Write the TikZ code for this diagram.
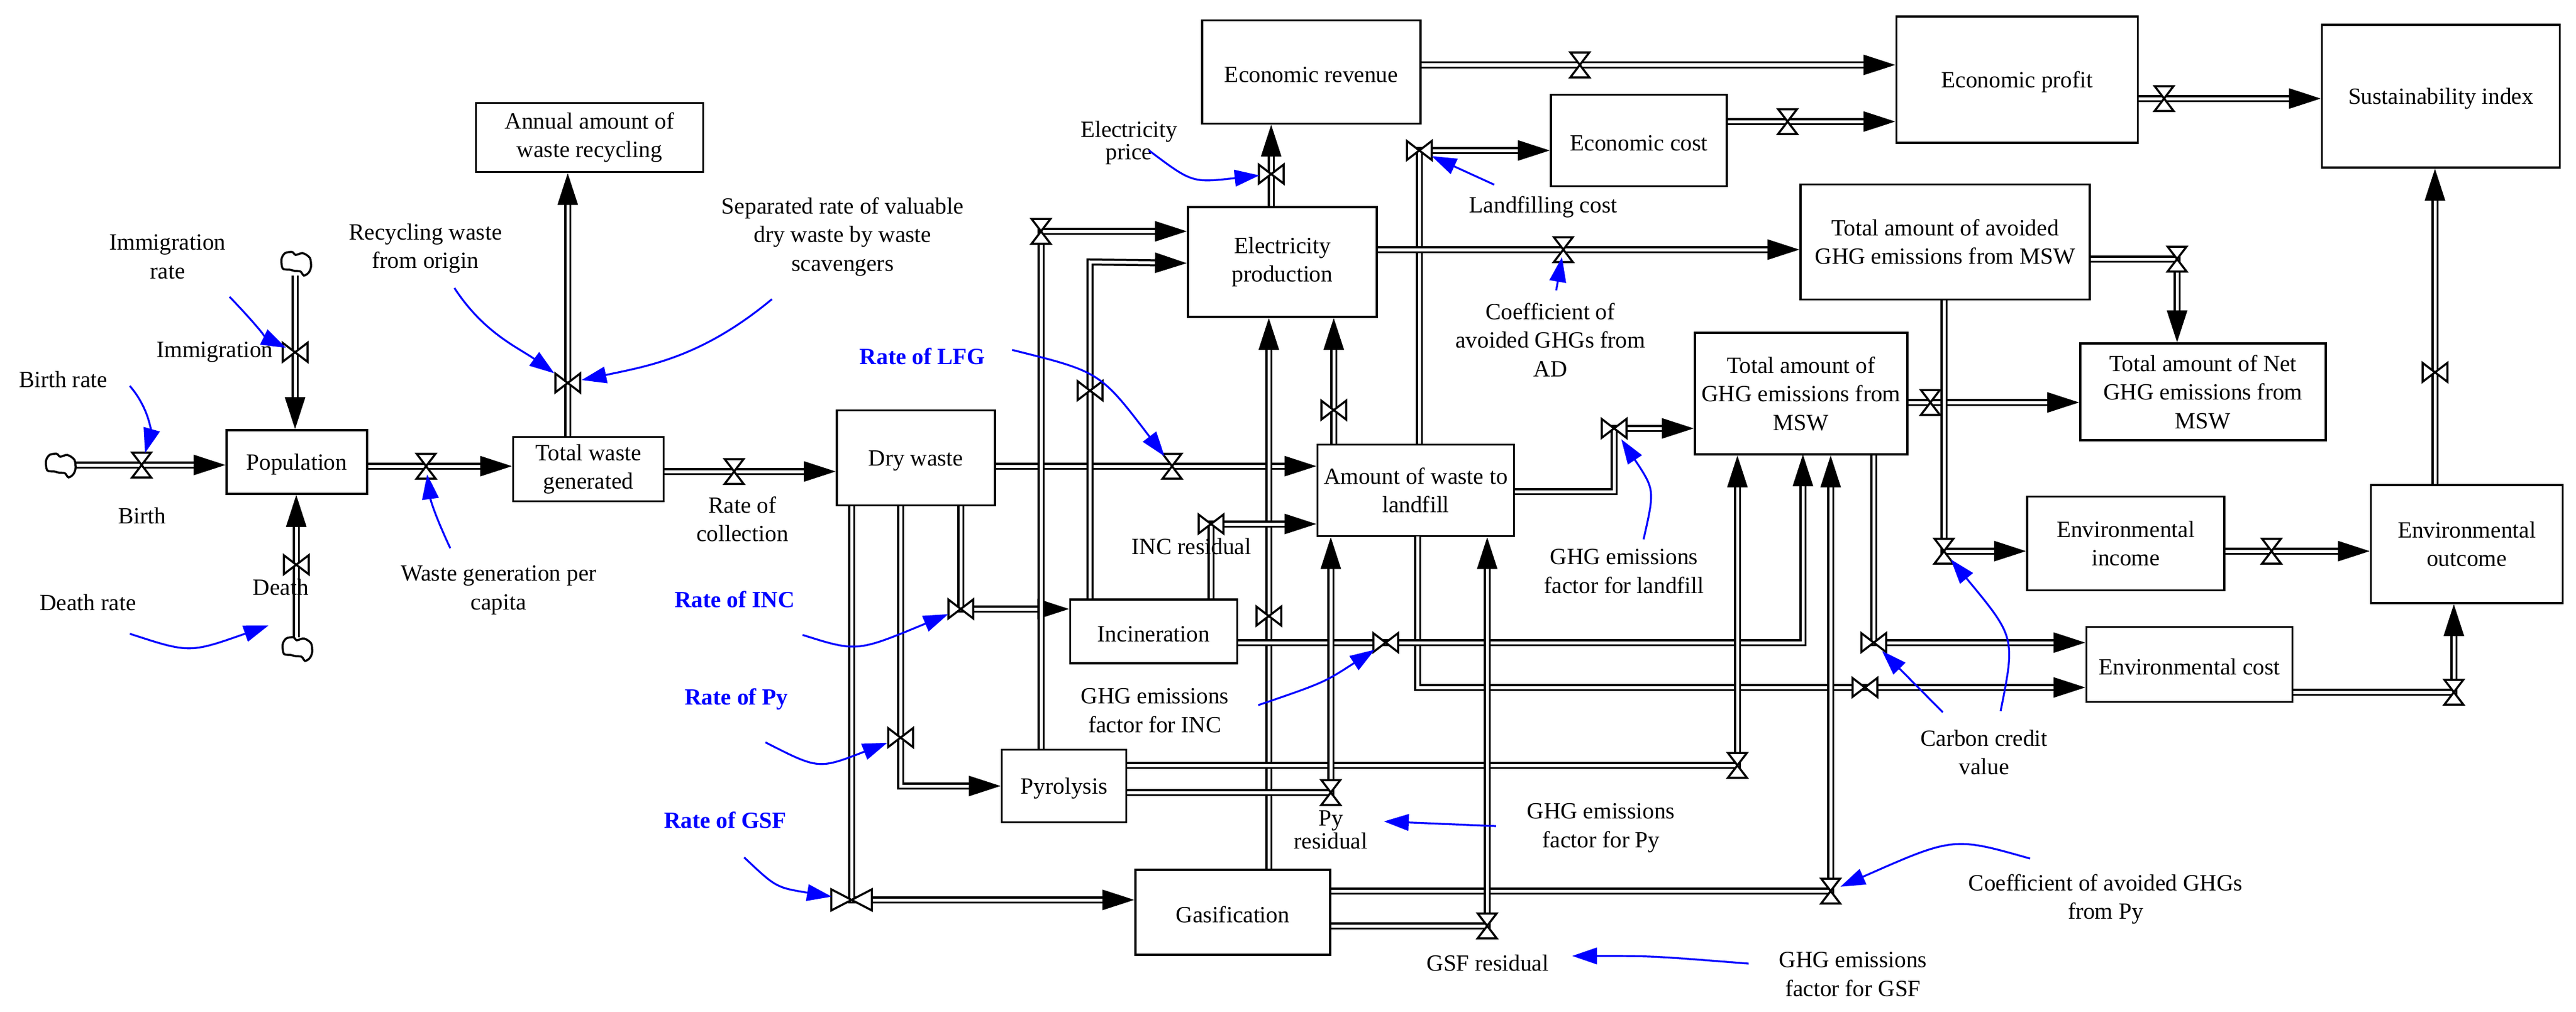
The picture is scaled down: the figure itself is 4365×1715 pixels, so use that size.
\documentclass[tikz,border=0pt]{standalone}
\usepackage{fontspec}
\setmainfont{Liberation Serif}
\usetikzlibrary{arrows.meta}

\tikzset{
  stock/.style={draw,line width=0.035cm,inner sep=0pt,align=center,font=\fontsize{11.2}{13.8}\selectfont,execute at begin node={\rule{0pt}{10.2pt}}},
  txt/.style={inner sep=0pt,align=center,font=\fontsize{11.2}{13.8}\selectfont},
  tight/.style={inner sep=0pt,align=center,font=\fontsize{11.2}{8.6}\selectfont},
  rate/.style={inner sep=0pt,text=blue,font=\fontsize{11.2}{13.8}\selectfont\bfseries},
  pipe/.style={draw,line width=0.035cm,double,double distance=0.05cm,-{Triangle[length=0.54cm,width=0.34cm]}},
  link/.style={draw=blue,line width=0.032cm,-{Triangle[length=0.42cm,width=0.28cm]}},
  hvalve/.pic={\draw[line width=0.035cm,fill=white] (-16,-21) -- (16,-21) -- (-16,21) -- (16,21) -- cycle;},
  bowtie/.pic={\draw[line width=0.035cm,fill=white] (-21,-16) -- (-21,16) -- (21,-16) -- (21,16) -- cycle;},
  cloud/.pic={\draw[line width=0.035cm,fill=white] plot[smooth cycle] coordinates {(-24,-8) (-18,-18) (-6,-20) (0,-15) (12,-18) (24,-10) (26,5) (22,15) (14,20) (8,13) (-2,12) (-10,10) (-22,8)};}
}

\begin{document}
\begin{tikzpicture}[x=0.01cm,y=-0.01cm]
\useasboundingbox (0,0) rectangle (4365,1715);

% stocks
\node[stock,minimum width=2.38cm,minimum height=1.08cm] (Population) at (503,783) {Population};
\node[stock,minimum width=2.55cm,minimum height=1.09cm] (Total) at (997,795) {Total waste\\generated};
\node[stock,minimum width=3.85cm,minimum height=1.17cm] (Annual) at (999,233) {Annual amount of\\waste recycling};
\node[stock,minimum width=2.68cm,minimum height=1.61cm] (Dry) at (1552,776) {Dry waste};
\node[stock,minimum width=3.33cm,minimum height=1.55cm] (Amount) at (2399,831) {Amount of waste to\\landfill};
\node[stock,minimum width=2.83cm,minimum height=1.08cm] (Incineration) at (1955,1070) {Incineration};
\node[stock,minimum width=2.11cm,minimum height=1.23cm] (Pyrolysis) at (1803,1332) {Pyrolysis};
\node[stock,minimum width=3.30cm,minimum height=1.44cm] (Gasification) at (2089,1546) {Gasification};
\node[stock,minimum width=3.70cm,minimum height=1.75cm] (Revenue) at (2222,122) {Economic revenue};
\node[stock,minimum width=2.98cm,minimum height=1.55cm] (Cost) at (2777,238) {Economic cost};
\node[stock,minimum width=3.20cm,minimum height=1.86cm] (Production) at (2173,444) {Electricity\\production};
\node[stock,minimum width=4.09cm,minimum height=2.14cm] (Profit) at (3418,135) {Economic profit};
\node[stock,minimum width=4.03cm,minimum height=2.42cm] (Index) at (4136,163) {Sustainability index};
\node[stock,minimum width=4.90cm,minimum height=1.95cm] (Avoided) at (3296,410) {Total amount of avoided\\GHG emissions from MSW};
\node[stock,minimum width=3.60cm,minimum height=2.06cm] (Ghg) at (3052,667) {Total amount of\\GHG emissions from\\MSW};
\node[stock,minimum width=4.16cm,minimum height=1.64cm] (Net) at (3733,664) {Total amount of Net\\GHG emissions from\\MSW};
\node[stock,minimum width=3.34cm,minimum height=1.59cm] (Income) at (3602,921) {Environmental\\income};
\node[stock,minimum width=3.25cm,minimum height=2.00cm] (Outcome) at (4180,922) {Environmental\\outcome};
\node[stock,minimum width=3.49cm,minimum height=1.27cm] (Envcost) at (3710,1126) {Environmental cost};

% valves and clouds
\coordinate (vBirth) at (240,788);
\coordinate (vImmigration) at (500,597);
\coordinate (vDeath) at (502,957);
\coordinate (vWaste) at (722,790);
\coordinate (vRecycling) at (962,649);
\coordinate (vCollection) at (1244,799);
\coordinate (vLfg) at (1986,790);
\coordinate (vInc) at (1628,1032);
\coordinate (vPy) at (1526,1250);
\coordinate (vGsf) at (1443,1525);
\coordinate (vElecInc) at (1847,662);
\coordinate (vElecPy) at (1764,392);
\coordinate (vElecGsf) at (2150,1044);
\coordinate (vElecLf) at (2260,695);
\coordinate (vElecPrice) at (2154,295);
\coordinate (vRevenue) at (2677,110);
\coordinate (vCost) at (3029,206);
\coordinate (vLfCost) at (2405,255);
\coordinate (vProfit) at (3667,167);
\coordinate (vAvoided) at (2649,423);
\coordinate (vLfGhg) at (2735,726);
\coordinate (vGhgNet) at (3271,682);
\coordinate (vAvoidedNet) at (3689,439);
\coordinate (vCarbon) at (3294,934);
\coordinate (vIncome) at (3849,934);
\coordinate (vOutcome) at (4126,631);
\coordinate (vEnvcost) at (4158,1173);
\coordinate (vGhgCost) at (3175,1089);
\coordinate (vLfCarbon) at (3160,1165);
\coordinate (vIncGhg) at (2348,1089);
\coordinate (vIncRes) at (2052,888);
\coordinate (vPyGhg) at (2944,1297);
\coordinate (vPyRes) at (2255,1343);
\coordinate (vGsfGhg) at (3102,1510);
\coordinate (vGsfRes) at (2520,1569);
\coordinate (cBirth) at (102,789);
\coordinate (cImmigration) at (501,447);
\coordinate (cDeath) at (503,1100);

% flows
\draw[pipe,shorten <=0.25cm] (cBirth |- vBirth) -- (Population.west |- vBirth);
\draw[pipe,shorten <=0.2cm] (cImmigration -| vImmigration) -- (vImmigration |- Population.north);
\draw[pipe,shorten <=0.2cm] (cDeath -| vDeath) -- (vDeath |- Population.south);
\draw[pipe] (Population.east |- vWaste) -- (Total.west |- vWaste);
\draw[pipe] (vRecycling |- Total.north) -- (vRecycling |- Annual.south);
\draw[pipe] (Total.east |- vCollection) -- (Dry.west |- vCollection);
\draw[pipe] (Dry.east |- vLfg) -- (Amount.west |- vLfg);
\draw[pipe] (vInc |- Dry.south) -- (vInc) -- (Incineration.west |- vInc);
\draw[pipe] (vPy |- Dry.south) -- (vPy |- Pyrolysis.west) -- (Pyrolysis.west);
\draw[pipe] (vGsf |- Dry.south) -- (vGsf) -- (Gasification.west |- vGsf);
\draw[pipe] (vElecInc |- Incineration.north) -- (vElecInc |- Production.west) -- ([yshift=-0.02cm]Production.west);
\draw[pipe] (vElecPy |- Pyrolysis.north) -- (vElecPy) -- (Production.west |- vElecPy);
\draw[pipe] (vElecGsf |- Gasification.north) -- (vElecGsf |- Production.south);
\draw[pipe] (vElecLf |- Amount.north) -- (vElecLf |- Production.south);
\draw[pipe] (vElecPrice |- Production.north) -- (vElecPrice |- Revenue.south);
\draw[pipe] (Revenue.east |- vRevenue) -- (Profit.west |- vRevenue);
\draw[pipe] (Cost.east |- vCost) -- (Profit.west |- vCost);
\draw[pipe] (vLfCost |- Amount.north) -- (vLfCost) -- (Cost.west |- vLfCost);
\draw[pipe] (Profit.east |- vProfit) -- (Index.west |- vProfit);
\draw[pipe] (Production.east |- vAvoided) -- (Avoided.west |- vAvoided);
\draw[pipe] (Amount.east |- 0,833) -- (vLfGhg |- 0,833) -- (vLfGhg) -- (Ghg.west |- vLfGhg);
\draw[pipe] (Ghg.east |- vGhgNet) -- (Net.west |- vGhgNet);
\draw[pipe] (vCarbon |- Avoided.south) -- (vCarbon) -- (Income.west |- vCarbon);
\draw[pipe] (Avoided.east |- vAvoidedNet) -- (vAvoidedNet) -- (vAvoidedNet |- Net.north);
\draw[pipe] (Income.east |- vIncome) -- (Outcome.west |- vIncome);
\draw[pipe] (vOutcome |- Outcome.north) -- (vOutcome |- Index.south);
\draw[pipe] (Envcost.east |- vEnvcost) -- (vEnvcost) -- (vEnvcost |- Outcome.south);
\draw[pipe] (vGhgCost |- Ghg.south) -- (vGhgCost) -- (Envcost.west |- vGhgCost);
\draw[pipe] (2402,909) -- (2402,1165) -- (Envcost.west |- vLfCarbon);
\draw[pipe] (Incineration.east |- vIncGhg) -- (3055,1089) -- (3055,770);
\draw[pipe] (vIncRes |- Incineration.north) -- (vIncRes) -- (Amount.west |- vIncRes);
\draw[pipe] (Pyrolysis.east |- vPyGhg) -- (vPyGhg) -- (vPyGhg |- Ghg.south);
\draw[pipe] (Pyrolysis.east |- vPyRes) -- (vPyRes) -- (vPyRes |- Amount.south);
\draw[pipe] (Gasification.east |- vGsfGhg) -- (vGsfGhg) -- (vGsfGhg |- Ghg.south);
\draw[pipe] (Gasification.east |- vGsfRes) -- (vGsfRes) -- (vGsfRes |- Amount.south);

\foreach \v in {vBirth,vWaste,vCollection,vLfg,vElecPy,vRevenue,vCost,vProfit,vAvoided,vGhgNet,vAvoidedNet,vCarbon,vIncome,vEnvcost,vPyGhg,vPyRes,vGsfGhg,vGsfRes}
  \pic at (\v) {hvalve};
\foreach \v in {vImmigration,vDeath,vRecycling,vInc,vPy,vElecInc,vElecGsf,vElecLf,vElecPrice,vLfCost,vLfGhg,vOutcome,vGhgCost,vLfCarbon,vIncGhg,vIncRes}
  \pic at (\v) {bowtie};
\pic[xscale=1.64,yscale=1.12] at (vGsf) {bowtie};
\foreach \v in {cBirth,cImmigration,cDeath}
  \pic at (\v) {cloud};

% labels
\node[txt] (lImmigrationRate) at (284,435) {Immigration\\rate};
\node[txt] (lImmigration) at (364,597) {Immigration};
\node[txt] (lBirthRate) at (107,643) {Birth rate};
\node[txt] (lBirth) at (241,874) {Birth};
\node[txt] (lDeathRate) at (149,1021) {Death rate};
\node[txt] (lDeath) at (476,995) {Death};
\node[txt] (lRecycling) at (721,421) {Recycling waste\\from origin};
\node[txt] (lPerCapita) at (845,1000) {Waste generation per\\capita};
\node[txt] (lSeparated) at (1428,401) {Separated rate of valuable\\dry waste by waste\\scavengers};
\node[txt] (lCollection) at (1258,880) {Rate of\\collection};
\node[rate] (lLfg) at (1563,604) {Rate of LFG};
\node[rate] (lInc) at (1245,1016) {Rate of INC};
\node[rate] (lPy) at (1248,1185) {Rate of Py};
\node[rate] (lGsf) at (1229,1390) {Rate of GSF};
\node[txt] (lIncRes) at (2019,926) {INC residual};
\node[txt] (lFactorInc) at (1957,1204) {GHG emissions\\factor for INC};
\node[tight] (lPyRes) at (2255,1406) {Py\\residual};
\node[txt] (lGsfRes) at (2521,1632) {GSF residual};
\node[txt] (lFactorPy) at (2713,1403) {GHG emissions\\factor for Py};
\node[txt] (lFactorGsf) at (3140,1651) {GHG emissions\\factor for GSF};
\node[txt] (lCoefPy) at (3568,1524) {Coefficient of avoided GHGs\\from Py};
\node[txt] (lCarbon) at (3362,1275) {Carbon credit\\value};
\node[txt] (lFactorLf) at (2752,968) {GHG emissions\\factor for landfill};
\node[txt] (lCoefAd) at (2627,576) {Coefficient of\\avoided GHGs from\\AD};
\node[txt] (lLfCost) at (2615,351) {Landfilling cost};
\node[tight,font=\fontsize{11.2}{9.2}\selectfont] (lPrice) at (1913,242) {Electricity\\price};

% influences
\coordinate (eDeath) at (455,1060);
\coordinate (ePy) at (2345,1392);
\coordinate (eGsf) at (2664,1620);
\draw[link,shorten >=0.21cm] (220,654) .. controls (255,695) and (255,735) .. (vBirth);
\draw[link,shorten >=0.17cm] (389,503) .. controls (420,535) and (455,575) .. (vImmigration);
\draw[link,shorten >=0.28cm] (770,488) .. controls (820,565) and (880,590) .. (vRecycling);
\draw[link,shorten >=0.24cm] (1308,507) .. controls (1190,605) and (1100,620) .. (vRecycling);
\draw[link,shorten >=0.14cm] (763,929) .. controls (740,880) and (730,850) .. (vWaste);
\draw[link] (220,1074) .. controls (321,1107) .. (eDeath);
\draw[link,shorten >=0.21cm] (1715,593) .. controls (1864,630) .. (vLfg);
\draw[link,shorten >=0.23cm] (1360,1076) .. controls (1452,1105) .. (vInc);
\draw[link,shorten >=0.24cm] (1297,1258) .. controls (1387,1304) .. (vPy);
\draw[link,shorten >=0.34cm] (1261,1453) .. controls (1315,1504) .. (vGsf);
\draw[link,shorten >=0.2cm] (1947,255) .. controls (2020,310) .. (vElecPrice);
\draw[link,shorten >=0.23cm] (2532,313) -- (vLfCost);
\draw[link,shorten >=0.13cm] (2637,492) -- (vAvoided);
\draw[link,shorten >=0.22cm] (2785,914) .. controls (2804,830) .. (vLfGhg);
\draw[link,shorten >=0.22cm] (2132,1195) .. controls (2243,1157) .. (vIncGhg);
\draw[link] (2535,1400) -- (ePy);
\draw[link] (2963,1633) .. controls (2800,1620) .. (eGsf);
\draw[link,shorten >=0.18cm] (3440,1455) .. controls (3310,1418) .. (vGsfGhg);
\draw[link,shorten >=0.2cm] (3292,1207) -- (vGhgCost);
\draw[link,shorten >=0.18cm] (3390,1205) .. controls (3415,1080) .. (vCarbon);
\end{tikzpicture}
\end{document}
